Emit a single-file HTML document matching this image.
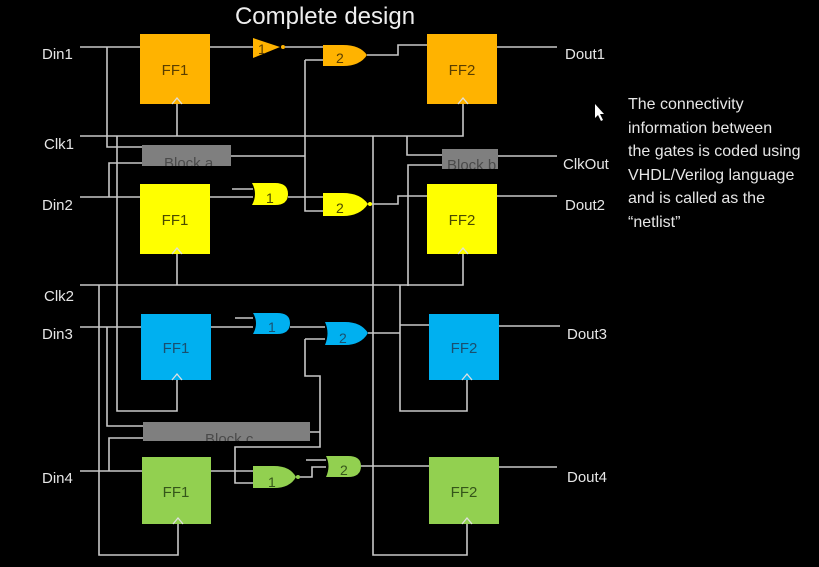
<!DOCTYPE html>
<html><head><meta charset="utf-8"><style>
html,body{margin:0;padding:0;background:#000;}
svg{display:block;}
text{font-family:"Liberation Sans",sans-serif;}
</style></head><body>
<svg width="819" height="567" viewBox="0 0 819 567" xmlns="http://www.w3.org/2000/svg">
<rect width="819" height="567" fill="#000"/>
<text x="325" y="24" fill="#eee" font-size="24" text-anchor="middle">Complete design</text>

<g stroke="#c8c8c8" stroke-width="1.6" fill="none">
<path d="M80 47H140M107 47V147H142M210 47H253M285 47H323M305 60H323M305 60V211H323M231 156H305M367 55H398V45H427M497 47H557"/>
<path d="M80 136H463V104M177 104V136M117 136V411H177V380M373 136V555H467V524M407 136V155H442M442 165H408V286M498 156H557"/>
<path d="M80 197H140M109 197V163H142M210 197H253M232 189H253M288 197H323M368 204H398V196H427M497 196H557"/>
<path d="M80 285H463V254M177 254V285M99 285V555H178V524M400 285V411H467V380M368 333H400M400 325H429M499 326H560"/>
<path d="M80 327H141M107 327V426H143M211 327H253M235 318H253M290 327H325M305 339H325M305 339V376H320V447H235V483H253M310 432H320"/>
<path d="M80 471H142M109 471V438H143M211 471H253M296 477H312V467H326M306 460H326M361 466H429M499 467H557"/>
</g>

<g font-size="15" text-anchor="middle">
<rect x="140" y="34" width="70" height="70" fill="#ffb300"/><text x="175" y="75" fill="#5a3e00">FF1</text>
<rect x="140" y="184" width="70" height="70" fill="#ffff00"/><text x="175" y="225" fill="#4a4a00">FF1</text>
<rect x="141" y="314" width="70" height="66" fill="#00b0f0"/><text x="176" y="353" fill="#1a4f6e">FF1</text>
<rect x="142" y="457" width="69" height="67" fill="#92d050"/><text x="176" y="497" fill="#35561a">FF1</text>
<rect x="427" y="34" width="70" height="70" fill="#ffb300"/><text x="462" y="75" fill="#5a3e00">FF2</text>
<rect x="427" y="184" width="70" height="70" fill="#ffff00"/><text x="462" y="225" fill="#4a4a00">FF2</text>
<rect x="429" y="314" width="70" height="66" fill="#00b0f0"/><text x="464" y="353" fill="#1a4f6e">FF2</text>
<rect x="429" y="457" width="70" height="67" fill="#92d050"/><text x="464" y="497" fill="#35561a">FF2</text>
</g>
<g stroke="#e0e0e0" stroke-width="1.3" fill="none">
<path d="M172 104L177 98L182 104M172 254L177 248L182 254M172 380L177 374L182 380M173 524L178 518L183 524"/>
<path d="M458 104L463 98L468 104M458 254L463 248L468 254M462 380L467 374L472 380M462 524L467 518L472 524"/>
</g>

<svg x="142" y="145" width="89" height="21"><rect width="89" height="21" fill="#7f7f7f"/><text x="22" y="23" font-size="15" fill="#4a4a4a">Block a</text></svg>
<svg x="442" y="149" width="56" height="20"><rect width="56" height="20" fill="#7f7f7f"/><text x="5" y="21" font-size="15" fill="#4a4a4a">Block b</text></svg>
<svg x="143" y="422" width="167" height="19"><rect width="167" height="19" fill="#7f7f7f"/><text x="62" y="22" font-size="15" fill="#4a4a4a">Block c</text></svg>

<g font-size="14">
<path d="M253 38L280 47L253 58Z" fill="#ffb300"/><circle cx="283" cy="47" r="2" fill="#ffb300"/><text x="258" y="54" fill="#5a3e00">1</text>
<path d="M323 45H343Q360 45 367 55Q360 66 343 66H323Z" fill="#ffb300"/><text x="336" y="63" fill="#5a3e00">2</text>
<path d="M252 183H275Q288 183 288 194Q288 205 275 205H252Q258 194 252 183Z" fill="#ffff00"/><text x="266" y="203" fill="#4a4a00">1</text>
<path d="M323 193H343Q360 193 368 204Q360 216 343 216H323Z" fill="#ffff00"/><circle cx="370" cy="204" r="2" fill="#ffff00"/><text x="336" y="213" fill="#4a4a00">2</text>
<path d="M253 313H277Q290 313 290 323Q290 334 277 334H253Q259 323 253 313Z" fill="#00b0f0"/><text x="268" y="332" fill="#1a4f6e">1</text>
<path d="M325 322H345Q361 322 368 333Q361 345 345 345H325Q330 333 325 322Z" fill="#00b0f0"/><text x="339" y="343" fill="#1a4f6e">2</text>
<path d="M253 466H274Q290 466 296 477Q290 488 274 488H253Z" fill="#92d050"/><circle cx="298" cy="477" r="2" fill="#92d050"/><text x="268" y="487" fill="#35561a">1</text>
<path d="M326 456H348Q361 456 361 466Q361 477 348 477H326Q331 466 326 456Z" fill="#92d050"/><text x="340" y="475" fill="#35561a">2</text>
</g>

<g font-size="15" fill="#e6e6e6">
<text x="42" y="59">Din1</text>
<text x="44" y="149">Clk1</text>
<text x="42" y="210">Din2</text>
<text x="44" y="301">Clk2</text>
<text x="42" y="339">Din3</text>
<text x="42" y="483">Din4</text>
<text x="565" y="59">Dout1</text>
<text x="563" y="169">ClkOut</text>
<text x="565" y="210">Dout2</text>
<text x="567" y="339">Dout3</text>
<text x="567" y="482">Dout4</text>
</g>
<g font-size="16" fill="#e6e6e6">
<text x="628" y="109">The connectivity</text>
<text x="628" y="133">information between</text>
<text x="628" y="156">the gates is coded using</text>
<text x="628" y="180">VHDL/Verilog language</text>
<text x="628" y="203">and is called as the</text>
<text x="628" y="227">“netlist”</text>
</g>
<path d="M595 104L595 118L598 115L601 121L603 120L600 114L604 114Z" fill="#fff"/>
</svg>
</body></html>
